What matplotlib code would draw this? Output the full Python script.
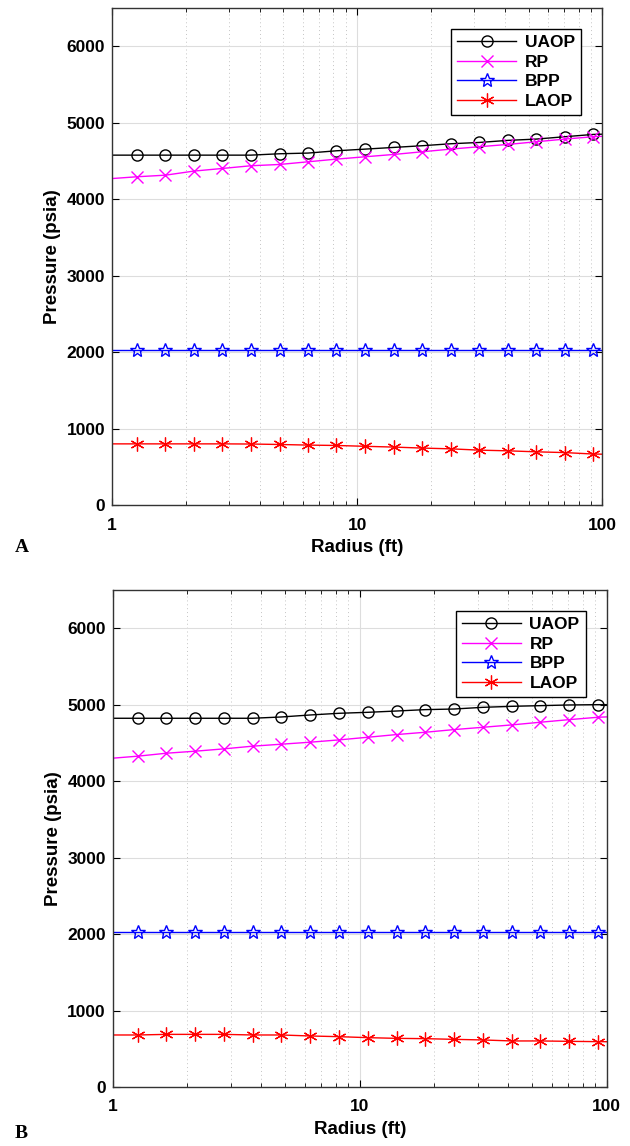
import matplotlib.pyplot as plt
import numpy as np
from matplotlib.ticker import FixedLocator, LogLocator, NullFormatter

# radius (ft): line runs from 1 to 100, markers at the inner points
radius = [1.0, 1.26, 1.65, 2.15, 2.82, 3.68, 4.82, 6.30, 8.23, 10.8, 14.1,
          18.4, 24.1, 31.5, 41.2, 53.8, 70.4, 92.0, 100.0]

# panel A
uaop_a = [4576, 4576, 4576, 4576, 4576, 4576, 4594, 4603, 4633, 4655, 4677,
          4699, 4725, 4742, 4769, 4786, 4817, 4847, 4850]
rp_a = [4270, 4293, 4314, 4367, 4402, 4437, 4454, 4489, 4524, 4555, 4585,
        4620, 4655, 4686, 4716, 4751, 4786, 4817, 4822]
bpp_a = [2030] * 19
laop_a = [800, 800, 800, 800, 800, 798, 792, 784, 779, 768, 758,
          745, 735, 718, 709, 696, 686, 667, 665]

# panel B
uaop_b = [4822, 4822, 4822, 4822, 4822, 4822, 4839, 4865, 4887, 4900, 4917,
          4935, 4943, 4965, 4978, 4987, 4996, 5000, 5000]
rp_b = [4300, 4326, 4365, 4391, 4422, 4457, 4483, 4509, 4539, 4574, 4609,
        4639, 4674, 4704, 4735, 4770, 4804, 4835, 4840]
bpp_b = [2030] * 19
laop_b = [680, 680, 688, 688, 688, 680, 680, 667, 658, 645, 636,
          632, 623, 615, 602, 602, 597, 593, 592]

series_names = ['UAOP', 'RP', 'BPP', 'LAOP']

plt.rcParams['font.family'] = ['Liberation Sans', 'DejaVu Sans']

fig = plt.figure(figsize=(6.3, 11.46), dpi=100)
ax_a = fig.add_axes([0.178, 0.5593, 0.778, 0.4337])
ax_b = fig.add_axes([0.179, 0.0515, 0.784, 0.4337])

mk = list(range(1, 18))
asterisk = (6, 2, 0)

def draw(ax, u, r, b, l):
    ax.plot(radius, u, color='k', lw=1, marker='o', ms=8, mfc='none',
            mec='k', markevery=mk, label=series_names[0])
    ax.plot(radius, r, color='#FF00FF', lw=1, marker='x', ms=8,
            markevery=mk, label=series_names[1])
    ax.plot(radius, b, color='#0000FF', lw=1, marker='*', ms=10, mfc='none',
            mec='#0000FF', markevery=mk, label=series_names[2])
    ax.plot(radius, l, color='#FF0000', lw=1, marker=asterisk, ms=10,
            mec='#FF0000', mew=0.9, markevery=mk, label=series_names[3])
    ax.set_xscale('log')
    ax.set_xlim(1, 100)
    ax.set_ylim(0, 6500)
    ax.xaxis.set_major_locator(FixedLocator([1, 10, 100]))
    ax.set_xticklabels(['1', '10', '100'])
    ax.xaxis.set_minor_locator(LogLocator(base=10, subs=np.arange(2, 10)))
    ax.xaxis.set_minor_formatter(NullFormatter())
    ax.set_yticks(range(0, 7000, 1000))
    ax.grid(True, which='major', color='#dddddd', lw=0.8)
    ax.grid(True, which='minor', axis='x', color='#c4c4c4', lw=0.7,
            linestyle=(0, (1, 3)))
    ax.set_axisbelow(True)
    ax.tick_params(which='both', direction='in', top=True, right=True,
                   labelsize=12.5)
    ax.tick_params(which='major', length=5)
    ax.tick_params(axis='x', which='major', pad=9)
    ax.tick_params(axis='y', which='major', pad=5)
    ax.tick_params(which='minor', length=3)
    for t in ax.get_xticklabels() + ax.get_yticklabels():
        t.set_fontweight('bold')
    for s in ax.spines.values():
        s.set_color('#333333')
        s.set_linewidth(1.0)
    ax.set_xlabel('Radius (ft)', fontsize=13.5, fontweight='bold', labelpad=5)
    ax.set_ylabel('Pressure (psia)', fontsize=13.5, fontweight='bold', labelpad=4)
    leg = ax.legend(loc='upper right', bbox_to_anchor=(0.975, 0.975),
                    prop={'weight': 'bold', 'size': 12.5},
                    fancybox=False, framealpha=1, edgecolor='k',
                    handlelength=3.4, borderpad=0.35, labelspacing=0.25,
                    handletextpad=0.5)
    leg.get_frame().set_linewidth(1.0)

draw(ax_a, uaop_a, rp_a, bpp_a, laop_a)
draw(ax_b, uaop_b, rp_b, bpp_b, laop_b)

fig.text(15 / 630, 1 - 548 / 1146, 'A', fontsize=14, fontweight='bold',
         family=['Liberation Serif', 'DejaVu Serif'], va='center')
fig.text(15 / 630, 1 - 1133 / 1146, 'B', fontsize=14, fontweight='bold',
         family=['Liberation Serif', 'DejaVu Serif'], va='center')

fig.savefig('out.png', dpi=100)
